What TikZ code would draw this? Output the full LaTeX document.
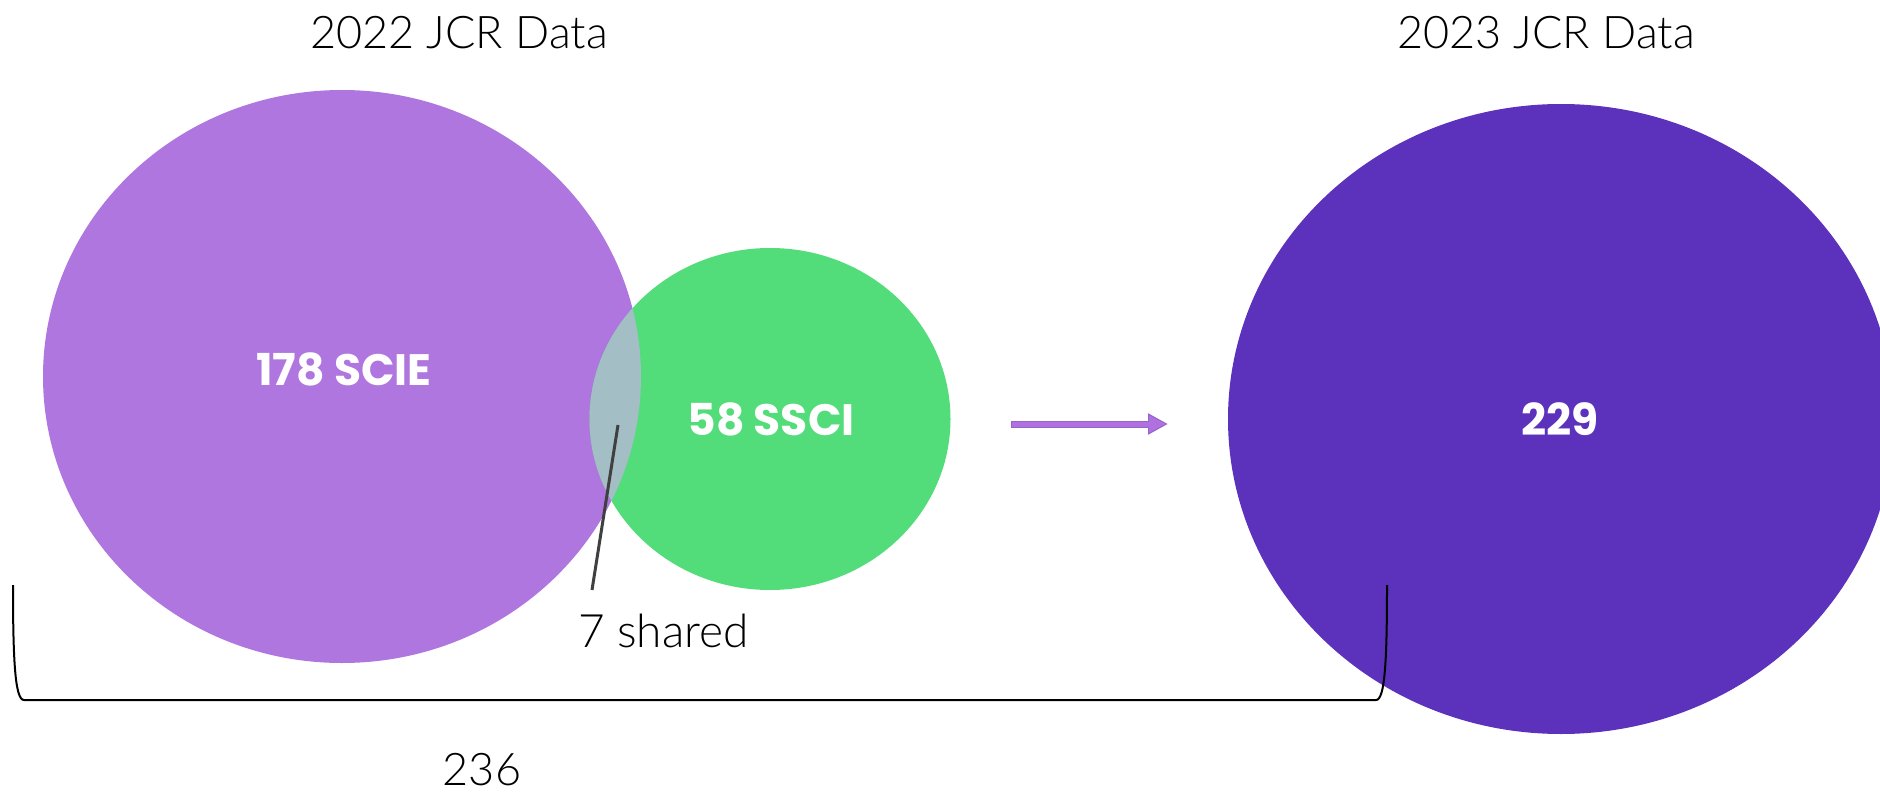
\documentclass[tikz,border=0pt]{standalone}
\usepackage{fontspec}
\setmainfont{Lato Light}
\newfontfamily\labfont{Poppins}
\usetikzlibrary{arrows.meta}
\definecolor{scie}{HTML}{B076E0}
\definecolor{ssci}{HTML}{52DC7A}
\definecolor{overlapc}{HTML}{A3BEC4}
\definecolor{newc}{HTML}{5C32BC}
\definecolor{arrowc}{HTML}{B070E0}
\definecolor{arrowe}{HTML}{9466C8}
\definecolor{linec}{HTML}{404040}
\tikzset{
  title/.style={font=\fontsize{45}{54}\selectfont, text=black, inner sep=0pt, anchor=base},
  biglab/.style={font=\labfont\bfseries\fontsize{44}{52}\selectfont, text=white, inner sep=0pt, anchor=base},
}
\begin{document}
\begin{tikzpicture}[x=1pt,y=-1pt]
\useasboundingbox (0,0) rectangle (1880,792);
\clip (0,0) rectangle (1880,792);
% ellipses
\fill[scie] (342,376.5) ellipse [x radius=299pt, y radius=286.5pt];
\fill[ssci] (770,419) ellipse [x radius=180.5pt, y radius=171pt];
\begin{scope}
  \clip (342,376.5) ellipse [x radius=299pt, y radius=286.5pt];
  \fill[overlapc] (770,419) ellipse [x radius=180.5pt, y radius=171pt];
\end{scope}
\fill[newc] (1561,419) ellipse [x radius=333pt, y radius=315pt];
% texts
\node[title] (t1) at (459,49) {2022 JCR Data};
\node[title] (t2) at (1546,49) {2023 JCR Data};
\node[biglab] (scieL) at (344,385) {178 SCIE};
\node[biglab] (ssciL) at (771,435) {58 SSCI};
\node[biglab] (newL) at (1560,435) {229};
\node[title, anchor=base west, font=\fontsize{46}{54}\selectfont] (shared) at (578,647) {7 shared};
\node[title] (tot) at (482,785) {236};
% pointer line
\coordinate (pA) at (618,425);
\coordinate (pB) at (592,590);
\draw[linec, line width=3pt] (pA) -- (pB);
% arrow
\coordinate (aS) at (1011,424);
\coordinate (aE) at (1168,424);
\draw[arrowe, line width=7pt, -{Triangle[length=20pt,width=20pt]}] (aS) -- (aE);
\draw[arrowc, line width=5pt, -{Triangle[length=17pt,width=16pt]}] ([xshift=1pt]aS) -- ([xshift=-2pt]aE);
% brace
\coordinate (bL) at (13,585);
\coordinate (bR) at (1387,585);
\draw[black, line width=2pt] (bL) .. controls (13,660) and (15,700) .. (24,700) -- (1376,700) .. controls (1385,700) and (1387,660) .. (bR);
\end{tikzpicture}
\end{document}
